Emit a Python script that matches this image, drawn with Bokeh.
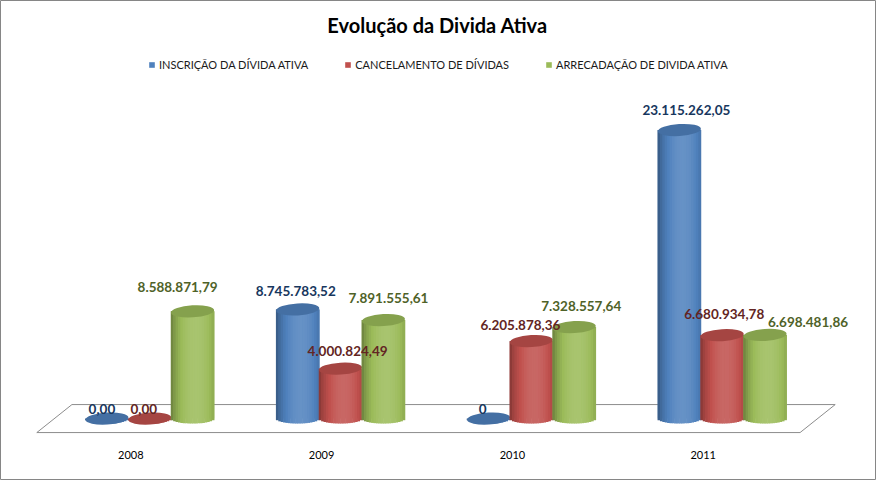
import numpy as np
from bokeh.plotting import figure
from bokeh.models import Range1d, ColumnDataSource, Legend, LegendItem
from bokeh.core.properties import value
from bokeh.embed import file_html
from bokeh.resources import INLINE

# ---------------- data ----------------
title_text = "Evolução da Divida Ativa"
years = ["2008", "2009", "2010", "2011"]
series_names = ["INSCRIÇÃO DA DÍVIDA ATIVA", "CANCELAMENTO DE DÍVIDAS", "ARRECADAÇÃO DE DIVIDA ATIVA"]
inscricao = [0.00, 8745783.52, 0.00, 23115262.05]
cancelamento = [0.00, 4000824.49, 6205878.36, 6680934.78]
arrecadacao = [8588871.79, 7891555.61, 7328557.64, 6698481.86]
inscricao_labels = ["0,00", "8.745.783,52", "0", "23.115.262,05"]
cancelamento_labels = ["0,00", "4.000.824,49", "6.205.878,36", "6.680.934,78"]
arrecadacao_labels = ["8.588.871,79", "7.891.555,61", "7.328.557,64", "6.698.481,86"]

series_values = [inscricao, cancelamento, arrecadacao]
series_labels = [inscricao_labels, cancelamento_labels, arrecadacao_labels]

# ---------------- styles / layout ----------------
W, H = 876, 480
X0, X1 = -0.7823, 3.8085
Y0, Y1 = -4.961e6, 33.49e6
BAR_W = 0.226
OFFSETS = [-0.2245, 0.0, 0.2245]
BODY = ["#4F81BD", "#C0504D", "#9BBB59"]
LABEL_COL = ["#17375E", "#632523", "#4F6228"]
FONT_NAME = "Lato"
FONT = value(FONT_NAME)
# label nudges in screen px (dx right, dy down), per series per year
LABEL_DX = [[-5, -2, -6, 7], [-6, 7, -11, 2], [-15, 5, 7, 43]]
LABEL_DY = [[-10, -18, -10, -20], [-10, -18, -16, -21], [-24, -22, -21, -13]]
TOP_H = 12          # px, top ellipse height
BOT_HALF = 5        # px, half height of the bottom curve
FLOOR_HALF = 14     # px, half depth of the floor
N_STRIP = 18

px_y = (Y1 - Y0) / H  # data units per screen px (y)


def hex2rgb(h):
    h = h.lstrip("#")
    return [int(h[i:i + 2], 16) for i in (0, 2, 4)]


def rgb2hex(c):
    return "#%02x%02x%02x" % tuple(int(max(0, min(255, round(v)))) for v in c)


def shade(base, u):
    c = np.array(hex2rgb(base), dtype=float)
    t = max(0.0, 1 - ((u - 0.15) / 1.15) ** 2)
    f = 0.66 + 0.46 * t ** 0.8
    if f <= 1:
        out = c * f
    else:
        out = c + (255 - c) * (f - 1) * 1.1
    return rgb2hex(out)


def darker(base, f):
    return rgb2hex(np.array(hex2rgb(base), dtype=float) * f)


p = figure(width=W, height=H, x_range=Range1d(X0, X1), y_range=Range1d(Y0, Y1),
           toolbar_location=None, output_backend="svg", min_border=0,
           x_axis_location=None, y_axis_location=None)
p.grid.visible = False
p.outline_line_color = "#868686"
p.outline_line_width = 1
p.background_fill_color = "white"
p.border_fill_color = "white"

# floor
n = len(years)
dx = 0.092
fy = FLOOR_HALF * px_y
p.patch([-0.5 + dx, n - 0.5 + dx, n - 0.5 - dx, -0.5 - dx],
        [fy, fy, -fy, -fy], fill_color="white", line_color="#8c8c8c", line_width=1)

legend_items = []
label_sources = []
xs_idx = np.arange(n, dtype=float)
for s in range(3):
    vals = np.array(series_values[s], dtype=float)
    xc = xs_idx + OFFSETS[s]
    base = p.vbar(x=xc, top=vals, bottom=0, width=BAR_W, fill_color=BODY[s], line_color=None)
    legend_items.append(LegendItem(label=series_names[s], renderers=[base]))
    # shaded strips
    sl, sr, st, sb, sc = [], [], [], [], []
    sw = BAR_W / N_STRIP
    for k in range(N_STRIP):
        u = -1 + (2 * k + 1) / N_STRIP
        col = shade(BODY[s], u)
        for i in range(n):
            xm = xc[i] + u * BAR_W / 2
            sl.append(xm - sw * 0.62)
            sr.append(xm + sw * 0.62)
            st.append(vals[i])
            sb.append(-BOT_HALF * px_y * np.sqrt(max(0.0, 1 - u * u)))
            sc.append(col)
    p.quad(left=sl, right=sr, top=st, bottom=sb, fill_color=sc, line_color=None)
    # top ellipse
    p.ellipse(x=xc, y=vals, width=BAR_W, height=TOP_H, height_units="screen",
              angle=0.06, fill_color=darker(BODY[s], 0.86), line_color=None)
    label_sources.append(ColumnDataSource(dict(x=xc, y=vals, t=series_labels[s],
                                               dx=LABEL_DX[s], dy=LABEL_DY[s])))

# data labels (drawn above all cylinders)
for s in range(3):
    p.text(x="x", y="y", text="t", x_offset="dx", y_offset="dy", source=label_sources[s],
           text_font=FONT, text_font_style="bold", text_font_size="13.5px",
           text_color=LABEL_COL[s], text_align="center", text_baseline="middle")

# category labels
p.text(x=xs_idx, y=[-36 * px_y] * n, text=years, x_offset=-19,
       text_font=FONT, text_font_size="11px", text_color="#000000",
       text_align="center", text_baseline="middle")

# title
p.text(x=[(X0 + X1) / 2 - 0.005], y=[Y1 - 24 * px_y], text=[title_text],
       text_font=FONT, text_font_style="bold", text_font_size="20px",
       text_color="#000000", text_align="center", text_baseline="middle")

legend = Legend(items=legend_items, orientation="horizontal", location=(148, 409),
                glyph_width=7, glyph_height=7, label_standoff=4, spacing=36,
                padding=0, margin=0, border_line_alpha=0, background_fill_alpha=0,
                label_text_font=FONT_NAME, label_text_font_size="11px",
                label_text_color="#1a1a1a")
p.add_layout(legend, "center")

open("out.html", "w").write(file_html(p, INLINE))
